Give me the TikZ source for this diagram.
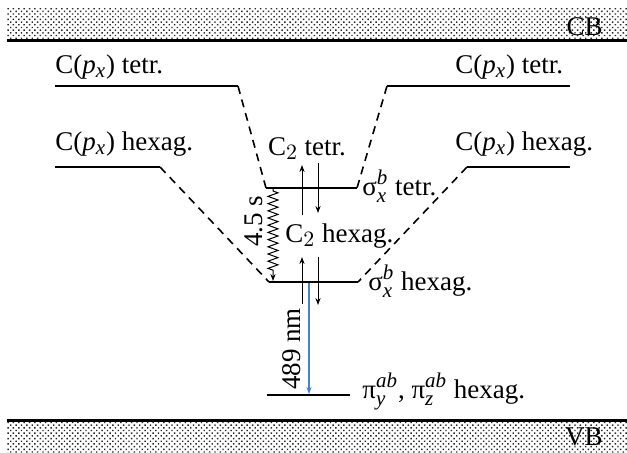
\documentclass[tikz,border=0pt]{standalone}
\usepackage{fontspec}
\setmainfont{Liberation Serif}
\usetikzlibrary{arrows.meta,patterns.meta,decorations.pathmorphing}

\DeclareMathSizes{13.5}{13.5}{10.5}{8}

\definecolor{emision}{RGB}{70,132,204}

\tikzset{
  nivel/.style={line width=1pt},
  enlace/.style={line width=0.8pt, dash pattern=on 4pt off 3pt},
  espin/.style={line width=0.5pt, -{Stealth[length=3.5pt,width=2.6pt]}},
  banda/.style={pattern={Dots[distance=1.9pt,radius=0.5pt,angle=45]},
    pattern color=black!85},
  etq/.style={inner sep=0pt, font=\fontsize{13.5}{16}\selectfont},
}

\begin{document}
\begin{tikzpicture}[x=0.5pt,y=-0.5pt]

  \useasboundingbox (0,0) rectangle (627,452);

  % Bandas
  \fill[banda] (7,8) rectangle (627,40);
  \draw[line width=1.5pt] (7,40) -- (627,40);
  \node[etq, anchor=base east] (cb) at (603,35) {CB};

  \fill[banda] (7,421) rectangle (627,452);
  \draw[line width=1.5pt] (7,420) -- (627,420);
  \node[etq, anchor=base east] (vb) at (603,445) {VB};

  % Niveles
  \coordinate (tl1) at (55,86);
  \coordinate (tl2) at (238,86);
  \coordinate (hl1) at (55,167);
  \coordinate (hl2) at (160,167);
  \coordinate (tr1) at (387,86);
  \coordinate (tr2) at (570,86);
  \coordinate (hr1) at (467,167);
  \coordinate (hr2) at (570,167);
  \coordinate (st1) at (266,188);
  \coordinate (st2) at (357,188);
  \coordinate (sh1) at (269,282);
  \coordinate (sh2) at (358,282);
  \coordinate (pi1) at (267,395);
  \coordinate (pi2) at (350,395);

  \draw[nivel] (tl1) -- (tl2);
  \draw[nivel] (hl1) -- (hl2);
  \draw[nivel] (tr1) -- (tr2);
  \draw[nivel] (hr1) -- (hr2);
  \draw[nivel] (st1) -- (st2);
  \draw[nivel] (sh1) -- (sh2);
  \draw[nivel] (pi1) -- (pi2);

  % Enlaces
  \draw[enlace] (tl2) -- (st1);
  \draw[enlace] (tr1) -- (st2);
  \draw[enlace] (hl2) -- (sh1);
  \draw[enlace] (hr1) -- (sh2);

  % Espines
  \coordinate (a1) at (302,215);
  \coordinate (a2) at (302,165);
  \coordinate (b1) at (318,163);
  \coordinate (b2) at (318,213);
  \coordinate (c1) at (302,304);
  \coordinate (c2) at (302,257);
  \coordinate (d1) at (318,257);
  \coordinate (d2) at (318,305);

  \draw[espin] (a1) -- (a2);
  \draw[espin] (b1) -- (b2);
  \draw[espin] (c1) -- (c2);
  \draw[espin] (d1) -- (d2);

  % Emision
  \coordinate (e1) at (309,283);
  \coordinate (e2) at (309,394);
  \draw[espin, emision, line width=0.8pt] (e1) -- (e2);

  % Relajacion
  \coordinate (r1) at (273,189);
  \coordinate (r2) at (273,281);
  \draw[espin, decorate,
    decoration={zigzag, amplitude=2.5pt, segment length=3.6pt,
      pre length=1pt, post length=4pt}]
    (r1) -- (r2);

  % Etiquetas
  \node[etq, anchor=base west] (ltl) at (55,73)
    {C(\textit{p}$_{\mathit{x}}$) tetr.};
  \node[etq, anchor=base west] (lhl) at (55,150)
    {C(\textit{p}$_{\mathit{x}}$) hexag.};
  \node[etq, anchor=base west] (ltr) at (455,73)
    {C(\textit{p}$_{\mathit{x}}$) tetr.};
  \node[etq, anchor=base west] (lhr) at (455,150)
    {C(\textit{p}$_{\mathit{x}}$) hexag.};

  \node[etq, anchor=base] (lc2t) at (307,155)
    {C$_{2}$ tetr.};
  \node[etq, anchor=base west] (lc2h) at (285,242)
    {C$_{2}$ hexag.};

  \node[etq, anchor=base west] (lst) at (362,195)
    {σ$^{\mathit{b}}_{\mathit{x}}$ tetr.};
  \node[etq, anchor=base west] (lsh) at (368,290)
    {σ$^{\mathit{b}}_{\mathit{x}}$ hexag.};
  \node[etq, anchor=base west] (lpi) at (362,398)
    {π$^{\mathit{ab}}_{\mathit{y}}$, π$^{\mathit{ab}}_{\mathit{z}}$ hexag.};

  \node[etq, rotate=90] (lnm) at (292,349) {489 nm};
  \node[etq, rotate=90] (lts) at (254,221) {4.5 s};

\end{tikzpicture}
\end{document}
